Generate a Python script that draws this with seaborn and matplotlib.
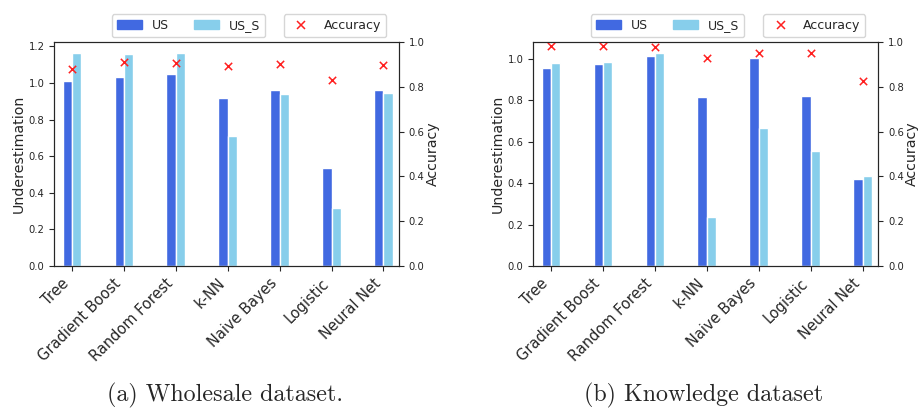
import numpy as np
import pandas as pd
import matplotlib
matplotlib.use("Agg")
import matplotlib.pyplot as plt
from matplotlib.patches import Patch
from matplotlib.lines import Line2D
import seaborn as sns

models = ["Tree", "Gradient Boost", "Random Forest", "k-NN", "Naive Bayes", "Logistic", "Neural Net"]

# (a) Wholesale dataset
wholesale_us = [1.008, 1.030, 1.048, 0.919, 0.963, 0.536, 0.963]
wholesale_us_s = [1.165, 1.155, 1.165, 0.710, 0.941, 0.316, 0.946]
wholesale_acc = [0.878, 0.909, 0.908, 0.892, 0.900, 0.832, 0.896]

# (b) Knowledge dataset
knowledge_us = [0.954, 0.974, 1.013, 0.814, 1.003, 0.819, 0.421]
knowledge_us_s = [0.979, 0.984, 1.029, 0.234, 0.667, 0.556, 0.433]
knowledge_acc = [0.984, 0.984, 0.979, 0.927, 0.951, 0.951, 0.828]

series_names = ["US", "US_S"]
captions = ["(a) Wholesale dataset.", "(b) Knowledge dataset"]

sns.set_style("ticks")
plt.rcParams["font.family"] = ["DejaVu Sans"]

C_US = "#4169E1"
C_USS = "#87CEEB"
C_ACC = "#ff2020"

fig = plt.figure(figsize=(9.18, 4.09), dpi=100)
positions = [
    [54.3 / 918, 143 / 409, 344.7 / 918, 224 / 409],
    [533.3 / 918, 143 / 409, 345 / 918, 224 / 409],
]
caption_x = [225 / 918, 704 / 918]

datasets = [
    (wholesale_us, wholesale_us_s, wholesale_acc),
    (knowledge_us, knowledge_us_s, knowledge_acc),
]

for i, (us, uss, acc) in enumerate(datasets):
    ax = fig.add_axes(positions[i])
    df = pd.DataFrame({
        "model": models * 2,
        "value": list(us) + list(uss),
        "series": [series_names[0]] * len(models) + [series_names[1]] * len(models),
    })
    sns.barplot(data=df, x="model", y="value", hue="series", ax=ax,
                palette=[C_US, C_USS], width=0.36, saturation=1,
                errorbar=None, legend=False)
    ax.set_xlim(-0.34, len(models) - 1 + 0.30)
    ax.set_xlabel("")
    ax.set_ylabel("Underestimation", fontsize=10.2, labelpad=2)
    ax.tick_params(axis="y", labelsize=7.2)
    ax.set_xticks(range(len(models)))
    ax.set_xticklabels(models, rotation=45, ha="right", fontsize=10.5)

    ax2 = ax.twinx()
    sns.scatterplot(x=np.arange(len(models)), y=acc, ax=ax2, marker="x",
                    color=C_ACC, s=28, linewidth=1.1, legend=False)
    ax2.set_ylim(0, 1.0)
    ax2.set_yticks([0, 0.2, 0.4, 0.6, 0.8, 1.0])
    ax2.set_ylabel("Accuracy", fontsize=10.2, labelpad=1)
    ax2.tick_params(axis="y", labelsize=7.2)
    ax2.set_xlim(-0.34, len(models) - 1 + 0.30)

    leg1 = ax2.legend(handles=[Patch(color=C_US), Patch(color=C_USS)],
                      labels=series_names, ncol=2, loc="lower left",
                      bbox_to_anchor=(0.167, 1.022), borderaxespad=0,
                      fontsize=9, frameon=True)
    ax2.add_artist(leg1)
    ax2.legend(handles=[Line2D([], [], marker="x", color=C_ACC, linestyle="none",
                               markersize=5.5, markeredgewidth=1.1)],
               labels=["Accuracy"], loc="lower left",
               bbox_to_anchor=(0.666, 1.022), borderaxespad=0,
               fontsize=9, frameon=True)

    fig.text(caption_x[i], 1 - 395 / 409, captions[i], ha="center", va="center",
             fontsize=17.3, family="cmr10")

fig.savefig("out.png", dpi=100)
